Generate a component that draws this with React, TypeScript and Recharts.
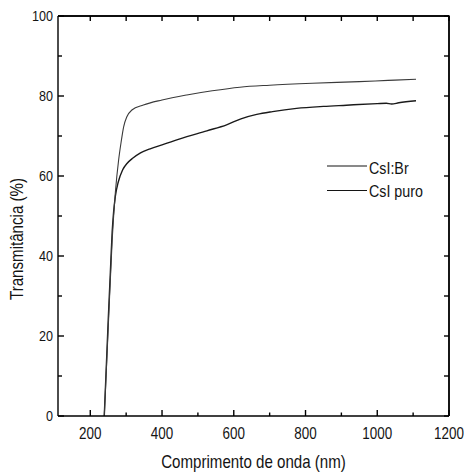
import React from 'react';
import { LineChart, Line, XAxis, YAxis, Legend } from 'recharts';

const seriesNames = ['CsI:Br', 'CsI puro'];

// lower curve
const csiBrWavelength = [239, 250, 256, 261, 265, 270, 278, 290, 303, 319, 340, 367, 400, 450, 525, 580, 620, 664, 708, 775, 850, 914, 1000, 1025, 1040, 1060, 1108];
const csiBrTransmittance = [0, 24, 36, 46, 51, 55, 58.5, 61.5, 63.2, 64.5, 65.8, 66.8, 67.8, 69.3, 71.3, 72.8, 74.3, 75.4, 76.1, 76.9, 77.4, 77.7, 78.1, 78.2, 78.0, 78.3, 78.8];

// upper curve
const csiPuroWavelength = [239, 250, 261, 270, 279, 286, 293, 302, 316, 348, 400, 469, 540, 617, 700, 819, 950, 1030, 1108];
const csiPuroTransmittance = [0, 22, 44, 56, 64, 68.5, 72.3, 74.8, 76.5, 77.75, 79, 80.25, 81.3, 82.2, 82.7, 83.2, 83.6, 83.9, 84.2];

const xDomain = [110, 1200];
const yDomain = [0, 100];
const xTicks = [200, 300, 400, 500, 600, 700, 800, 900, 1000, 1100, 1200];
const xTickLabels = [200, 400, 600, 800, 1000, 1200];
const yTicks = [0, 10, 20, 30, 40, 50, 60, 70, 80, 90, 100];
const yTickLabels = [0, 20, 40, 60, 80, 100];

const xLabel = 'Comprimento de onda (nm)';
const yLabel = 'Transmitância (%)';

const csiBrData = csiBrWavelength.map((w, i) => ({ w, t: csiBrTransmittance[i] }));
const csiPuroData = csiPuroWavelength.map((w, i) => ({ w, t: csiPuroTransmittance[i] }));

// top and right edges of the box, from the domain
const frameData = [
  { w: xDomain[0], t: yDomain[1] },
  { w: xDomain[1], t: yDomain[1] },
  { w: xDomain[1], t: yDomain[0] },
];

const FONT = "'Liberation Sans', Arial, sans-serif";
const SQUEEZE = 0.84;

const Narrow = (props: any) => {
  const { x, y, anchor = 'start', size, rotate = false, children } = props;
  return (
    <text
      transform={`translate(${x},${y})${rotate ? ' rotate(-90)' : ''} scale(${SQUEEZE},1)`}
      x={0}
      y={0}
      textAnchor={anchor}
      fontSize={size}
      fontFamily={FONT}
      fill="#141414"
    >
      {children}
    </text>
  );
};

const BottomTick = (props: any) => {
  const { x, y, payload } = props;
  const v = payload.value;
  const major = xTickLabels.includes(v);
  return (
    <g>
      <path d={`M${x},${y}L${x},${y - (major ? 6 : 3.5)}`} stroke="#000000" strokeWidth={1.4} fill="none" />
      {major && (
        <Narrow x={x} y={y + 23} anchor="middle" size={16}>
          {v}
        </Narrow>
      )}
    </g>
  );
};

const TopTick = (props: any) => {
  const { x, y } = props;
  return <path d={`M${x},${y}L${x},${y + 5}`} stroke="#000000" strokeWidth={1.4} fill="none" />;
};

const LeftTick = (props: any) => {
  const { x, y, payload } = props;
  const v = payload.value;
  const major = yTickLabels.includes(v);
  return (
    <g>
      <path d={`M${x},${y}L${x + (major ? 6 : 4)},${y}`} stroke="#000000" strokeWidth={1.4} fill="none" />
      {major && (
        <Narrow x={x - 5} y={y + 5} anchor="end" size={15}>
          {v}
        </Narrow>
      )}
    </g>
  );
};

const RightTick = (props: any) => {
  const { x, y } = props;
  return <path d={`M${x},${y}L${x - 5},${y}`} stroke="#000000" strokeWidth={1.4} fill="none" />;
};

const XLabel = (props: any) => {
  const { viewBox } = props;
  return (
    <Narrow x={viewBox.x + viewBox.width / 2} y={viewBox.y + 51.5} anchor="middle" size={18}>
      {xLabel}
    </Narrow>
  );
};

const YLabel = (props: any) => {
  const { viewBox } = props;
  return (
    <Narrow x={viewBox.x + 22.5} y={viewBox.y + viewBox.height / 2 + 23} anchor="middle" size={18} rotate>
      {yLabel}
    </Narrow>
  );
};

const renderLegend = (props: any) => {
  const payload = (props.payload || [])
    .filter((p: any) => seriesNames.includes(p.value))
    .sort((a: any, b: any) => seriesNames.indexOf(a.value) - seriesNames.indexOf(b.value));
  const lineY = [16, 40.5];
  const textY = [24, 46.5];
  return (
    <svg width={130} height={60} style={{ display: 'block', overflow: 'visible' }}>
      {payload.map((p: any, i: number) => (
        <g key={p.value}>
          <line x1={7} x2={47} y1={lineY[i]} y2={lineY[i]} stroke="#141414" strokeWidth={1.2} />
          <Narrow x={49} y={textY[i]} size={17}>
            {p.value}
          </Narrow>
        </g>
      ))}
    </svg>
  );
};

export default function App() {
  return (
    <div style={{ position: 'absolute', left: 0, top: 0, width: 464, height: 472, background: '#fff' }}>
      <LineChart width={464} height={472} margin={{ top: 10, right: 10, bottom: 0, left: 0 }}>
        <XAxis
          xAxisId="bottom"
          dataKey="w"
          type="number"
          domain={xDomain}
          ticks={xTicks}
          interval={0}
          tickSize={0}
          tickMargin={0}
          tick={<BottomTick />}
          height={56}
          axisLine={{ stroke: '#000000', strokeWidth: 1.4 }}
          label={(p: any) => <XLabel {...p} />}
        />
        <XAxis
          xAxisId="top"
          orientation="top"
          dataKey="w"
          type="number"
          domain={xDomain}
          ticks={xTicks}
          interval={0}
          tickSize={0}
          tickMargin={0}
          tick={<TopTick />}
          height={6}
          axisLine={{ stroke: '#000000', strokeWidth: 1.4 }}
        />
        <YAxis
          yAxisId="left"
          type="number"
          domain={yDomain}
          ticks={yTicks}
          interval={0}
          tickSize={0}
          tickMargin={0}
          tick={<LeftTick />}
          width={58}
          axisLine={{ stroke: '#000000', strokeWidth: 1.4 }}
          label={(p: any) => <YLabel {...p} />}
        />
        <YAxis
          yAxisId="right"
          orientation="right"
          type="number"
          domain={yDomain}
          ticks={yTicks}
          interval={0}
          tickSize={0}
          tickMargin={0}
          tick={<RightTick />}
          width={5}
          axisLine={{ stroke: '#000000', strokeWidth: 1.4 }}
        />
        <Legend
          layout="vertical"
          align="center"
          verticalAlign="middle"
          content={renderLegend}
          wrapperStyle={{ left: 320, top: 150, width: 130, height: 60 }}
        />
        <Line
          xAxisId="top"
          yAxisId="right"
          data={frameData}
          dataKey="t"
          name="frame"
          legendType="none"
          type="linear"
          stroke="#000000"
          strokeWidth={1.4}
          dot={false}
          isAnimationActive={false}
        />
        <Line
          xAxisId="bottom"
          yAxisId="left"
          data={csiBrData}
          dataKey="t"
          name={seriesNames[0]}
          type="monotone"
          stroke="#1a1a1a"
          strokeWidth={1.4}
          dot={false}
          isAnimationActive={false}
        />
        <Line
          xAxisId="bottom"
          yAxisId="left"
          data={csiPuroData}
          dataKey="t"
          name={seriesNames[1]}
          type="monotone"
          stroke="#3a3a3a"
          strokeWidth={1.1}
          dot={false}
          isAnimationActive={false}
        />
      </LineChart>
    </div>
  );
}
